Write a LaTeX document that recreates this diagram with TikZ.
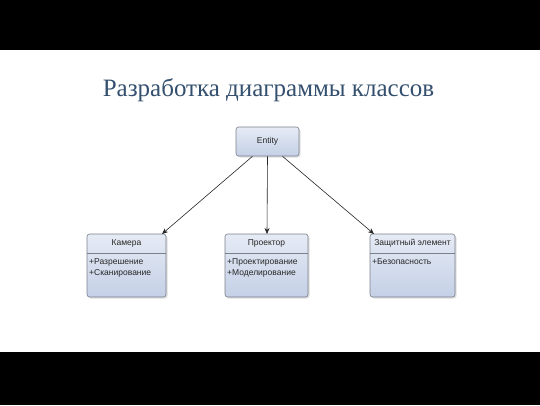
\documentclass[tikz,border=0pt]{standalone}
\usepackage{fontspec}
\setmainfont{Liberation Serif}
\setsansfont{Liberation Sans}
\newfontfamily\titlefont{Liberation Serif}
\usetikzlibrary{arrows.meta}
\definecolor{titlecol}{HTML}{34506E}
\definecolor{boxline}{HTML}{7A808C}
\definecolor{boxtop}{HTML}{E6EBF5}
\definecolor{boxbot}{HTML}{C4D0E6}
\tikzset{
  cls/.style={draw=boxline, line width=0.6pt, rounded corners=2.5pt, top color=boxtop, bottom color=boxbot},
  shd/.style={fill=black!12, rounded corners=2.5pt},
  hdr/.style={font=\sffamily\fontsize{8.5}{10}\selectfont, text=black!85},
  attr/.style={font=\sffamily\fontsize{8.5}{10.5}\selectfont, text=black!85, align=left, anchor=north west, inner sep=1pt},
  conn/.style={draw=black!85, line width=0.6pt, -{Stealth[length=6pt,width=5pt]}}
}
\begin{document}
\begin{tikzpicture}[x=1pt,y=1pt]
\useasboundingbox (0,0) rectangle (540,405);
\fill[black] (0,355) rectangle (540,405);
\fill[black] (0,0) rectangle (540,53);
\fill[white] (0,53) rectangle (540,355);
\node[font=\titlefont\fontsize{25}{29}\selectfont, text=titlecol] (title) at (268.5,315) {Разработка диаграммы классов};
% Entity
\fill[shd] (237.5,247.5) rectangle (300.5,276.5);
\node[cls, minimum width=63pt, minimum height=29pt, font=\sffamily\fontsize{8.5}{10}\selectfont, text=black!85] (entity) at (267.5,263.5) {Entity};
% Class boxes
\fill[shd] (88.5,106.5) rectangle (167.5,169.5);
\path[cls] (87,108) rectangle (166,171);
\coordinate (camtop) at (162,171);
\draw[boxline, line width=0.5pt] (87,152) -- (166,152);
\node[hdr] (camh) at (126.5,161.5) {Камера};
\node[attr] (cama) at (88,147.5) {+Разрешение\\+Сканирование};
\fill[shd] (226.5,106.5) rectangle (309.5,169.5);
\path[cls] (225,108) rectangle (308,171);
\coordinate (prtop) at (267,171);
\draw[boxline, line width=0.5pt] (225,152) -- (308,152);
\node[hdr] (prh) at (266.5,161.5) {Проектор};
\node[attr] (pra) at (226,147.5) {+Проектирование\\+Моделирование};
\fill[shd] (371.5,106.5) rectangle (456.5,169.5);
\path[cls] (370,108) rectangle (455,171);
\coordinate (ztop) at (374,171);
\draw[boxline, line width=0.5pt] (370,152) -- (455,152);
\node[hdr] (zh) at (412.5,161.5) {Защитный элемент};
\node[attr] (za) at (371,147.5) {+Безопасность};
% connectors
\draw[conn] ([xshift=-15pt]entity.south) -- (camtop);
\draw[conn] (entity.south) -- (prtop);
\draw[conn] ([xshift=15pt]entity.south) -- (ztop);
\end{tikzpicture}
\end{document}
